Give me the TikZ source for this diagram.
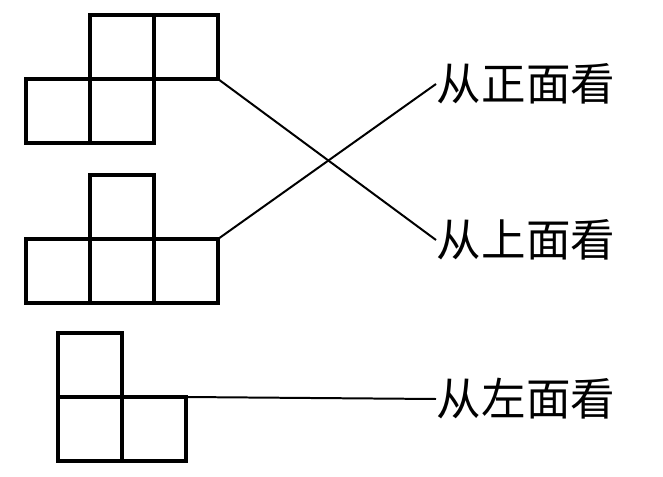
\documentclass[tikz,border=0pt]{standalone}
\usepackage{fontspec}
\newfontfamily\cjk{Noto Sans CJK SC}
\usetikzlibrary{positioning}
\tikzset{cell/.style={rectangle, draw, line width=2.6pt, minimum size=1.92cm, inner sep=0pt, outer sep=0pt},
  view/.style={font=\cjk\fontsize{38}{38}\selectfont, inner sep=0pt, anchor=west},}

\begin{document}
\begin{tikzpicture}[x=0.03cm, y=-0.03cm, line width=1.7pt]
				\useasboundingbox (0,0) rectangle (663,477);
				% First shape
				\node[cell] (a1) at (122,47) {};
				\node[cell] [right = 0pt of a1] (a2) {};
				\node[cell] [below = 0pt of a1] (a4) {};
				\node[cell] [left = 0pt of a4] (a3) {};
				% Second shape
				\node[cell] (b1) at (122,207) {};
				\node[cell] [below = 0pt of b1] (b3) {};
				\node[cell] [left = 0pt of b3] (b2) {};
				\node[cell] [right = 0pt of b3] (b4) {};
				% Third shape
				\node[cell] (c1) at (90,365) {};
				\node[cell] [below = 0pt of c1] (c2) {};
				\node[cell] [right = 0pt of c2] (c3) {};
				% Views
				\node[view] (front) at (436,84) {从正面看};
				\node[view] (top) at (436,240) {从上面看};
				\node[view] (left) at (436,399) {从左面看};
				% Lines
				\path[draw]
				(a2.south east) edge (top.west)
				(b4.north east) edge (front.west)
				(c3.north east) edge (left.west);
			\end{tikzpicture}
\end{document}
